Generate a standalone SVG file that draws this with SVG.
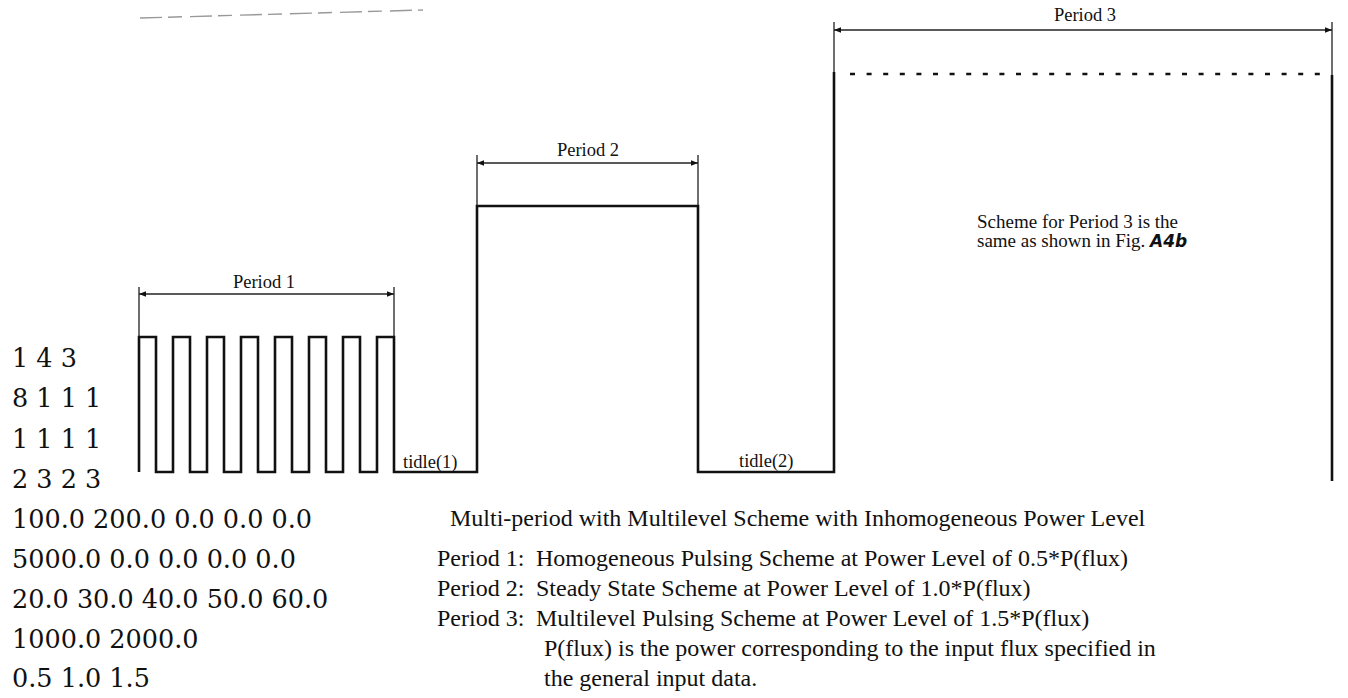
<svg xmlns="http://www.w3.org/2000/svg" width="1348" height="698" viewBox="0 0 1348 698">
<defs>
<marker id="ah" viewBox="0 0 10 10" refX="10" refY="5" markerWidth="9" markerHeight="7" orient="auto-start-reverse" markerUnits="userSpaceOnUse">
<path d="M0,1 L10,5 L0,9 Z" fill="#111"/>
</marker>
<style>
.sig{fill:none;stroke:#111;stroke-width:2.6;stroke-linejoin:miter}
.tick{fill:none;stroke:#222;stroke-width:1.3}
.dim{fill:none;stroke:#222;stroke-width:1.3;marker-start:url(#ah);marker-end:url(#ah)}
.lbl{font-family:"Liberation Serif","Times New Roman",serif;font-size:18.5px;fill:#111}
.cap{font-family:"Liberation Serif","Times New Roman",serif;font-size:24px;fill:#111}
.num{font-family:"DejaVu Serif",serif;font-size:25.5px;fill:#111}
.note{font-family:"Liberation Serif","Times New Roman",serif;font-size:19px;fill:#111}
</style>
</defs>
<rect width="1348" height="698" fill="#fff"/>
<line x1="140" y1="18" x2="423" y2="10" stroke="#999" stroke-width="1.4" stroke-dasharray="22,6,14,8"/>
<g id="connectors">
<path class="dim" d="M139,294 H394"/>
<path class="dim" d="M477,163 H698"/>
<path class="dim" d="M834,30 H1332"/>
<path class="tick" d="M139,287 V337 M394,287 V337 M477,155 V206 M698,155 V206 M834,22 V72 M1332,22 V75"/>
</g>
<g id="waveform">
<path class="sig" d="M139,472 V337 H156 V472 H173 V337 H190 V472 H207 V337 H224 V472 H241 V337 H258 V472 H275 V337 H292 V472 H309 V337 H326 V472 H343 V337 H360 V472 H377 V337 H394 V472 H477 V206 H698 V472 H834 V72"/>
<path class="sig" d="M1332,75 V481"/>
<line x1="850" y1="74" x2="1324" y2="74" stroke="#111" stroke-width="2.6" stroke-dasharray="5,11.6"/>
</g>
<g id="period1"><text class="lbl" x="264" y="288" text-anchor="middle">Period 1</text></g>
<g id="period2"><text class="lbl" x="588" y="156" text-anchor="middle">Period 2</text></g>
<g id="period3"><text class="lbl" x="1085" y="21" text-anchor="middle">Period 3</text></g>
<g id="tidle1"><text class="lbl" x="403" y="468">tidle(1)</text></g>
<g id="tidle2"><text class="lbl" x="739" y="467">tidle(2)</text></g>
<g id="note">
<text class="note" x="977" y="228">Scheme for Period 3 is the</text>
<text class="note" x="977" y="247">same as shown in Fig. <tspan font-family="'DejaVu Sans',sans-serif" font-weight="bold" font-style="italic" font-size="17px">A4b</tspan></text>
</g>
<g id="inputdata">
<text class="num" x="12" y="367">1 4 3</text>
<text class="num" x="12" y="407">8 1 1 1</text>
<text class="num" x="12" y="448">1 1 1 1</text>
<text class="num" x="12" y="488">2 3 2 3</text>
<text class="num" x="12" y="528">100.0 200.0 0.0 0.0 0.0</text>
<text class="num" x="12" y="568">5000.0 0.0 0.0 0.0 0.0</text>
<text class="num" x="12" y="608">20.0 30.0 40.0 50.0 60.0</text>
<text class="num" x="12" y="648">1000.0 2000.0</text>
<text class="num" x="12" y="687">0.5 1.0 1.5</text>
</g>
<g id="caption">
<text class="cap" x="450" y="526">Multi-period with Multilevel Scheme with Inhomogeneous Power Level</text>
<text class="cap" x="437" y="566">Period 1:<tspan x="536">Homogeneous Pulsing Scheme at Power Level of 0.5*P(flux)</tspan></text>
<text class="cap" x="437" y="596">Period 2:<tspan x="536">Steady State Scheme at Power Level of 1.0*P(flux)</tspan></text>
<text class="cap" x="437" y="626">Period 3:<tspan x="536">Multilevel Pulsing Scheme at Power Level of 1.5*P(flux)</tspan></text>
<text class="cap" x="544" y="656">P(flux) is the power corresponding to the input flux specified in</text>
<text class="cap" x="544" y="686">the general input data.</text>
</g>
</svg>
